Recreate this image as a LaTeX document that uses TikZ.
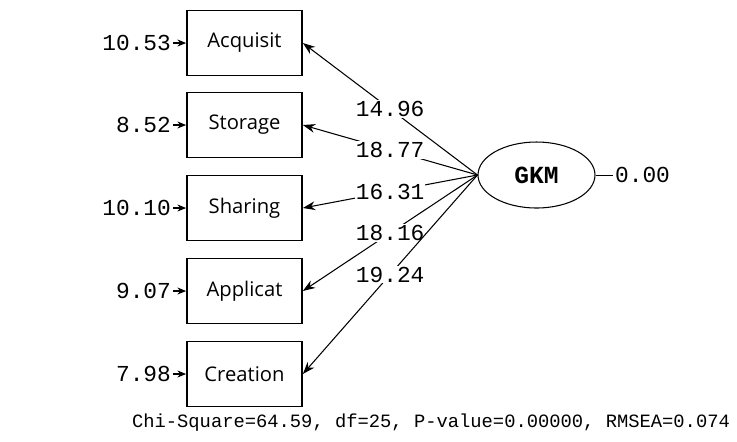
\documentclass[tikz,border=0pt]{standalone}
\usepackage{fontspec}
\setmainfont{Open Sans}
\setmonofont{Liberation Mono}
\usetikzlibrary{arrows.meta}
\usetikzlibrary{shapes.geometric}
\usetikzlibrary{math}

\tikzset{
    indic/.style={draw,line width=1pt,minimum width=2.3cm,minimum height=1.3cm,inner sep=0pt,
        font=\fontsize{11.5}{13}\selectfont},
    latent/.style={draw,ellipse,line width=0.6pt,minimum width=2.34cm,minimum height=1.32cm,inner sep=0pt,
        font=\ttfamily\bfseries\fontsize{14}{16}\selectfont},
    val/.style={font=\ttfamily\fontsize{13}{14}\selectfont,inner sep=1pt},
    loading/.style={line width=0.6pt,-{Stealth[length=7pt,width=5pt]}},
    errline/.style={line width=0.6pt,-{Stealth[length=5pt,width=4pt]}}
}

\begin{document}
\begin{tikzpicture}[x=0.02cm,y=-0.02cm]
            \useasboundingbox (0,0) rectangle (737,441);
            \tikzmath{\boxx = 244.5;}
            \node[latent] (gkm) at (536.5,175) {GKM};
            \node[val,anchor=west] (egkm) at (613,175) {0.00};
            \draw[line width=0.5pt] (gkm.east) -- (egkm.west);
            \foreach \name/\txt/\y/\err/\lam in {acq/Acquisit/43/10.53/14.96,
                                                 sto/Storage/125/8.52/18.77,
                                                 sha/Sharing/208/10.10/16.31,
                                                 app/Applicat/291/9.07/18.16,
                                                 cre/Creation/374/7.98/19.24} {
                \node[indic] (\name) at (\boxx,\y) {\txt};
                \node[val,anchor=east] (e\name) at (173,\y) {\err};
                \draw[errline] (e\name.east) -- (\name.west);
                \draw[loading] (gkm.west) -- (\name.east)
                    node[val,pos=0.5,fill=white,inner sep=0.5pt] (l\name) {\lam};
            }
            \node[val,font=\ttfamily\fontsize{10.7}{12}\selectfont] (fit) at (431,423)
                {Chi-Square=64.59, df=25, P-value=0.00000, RMSEA=0.074};
        \end{tikzpicture}
\end{document}
